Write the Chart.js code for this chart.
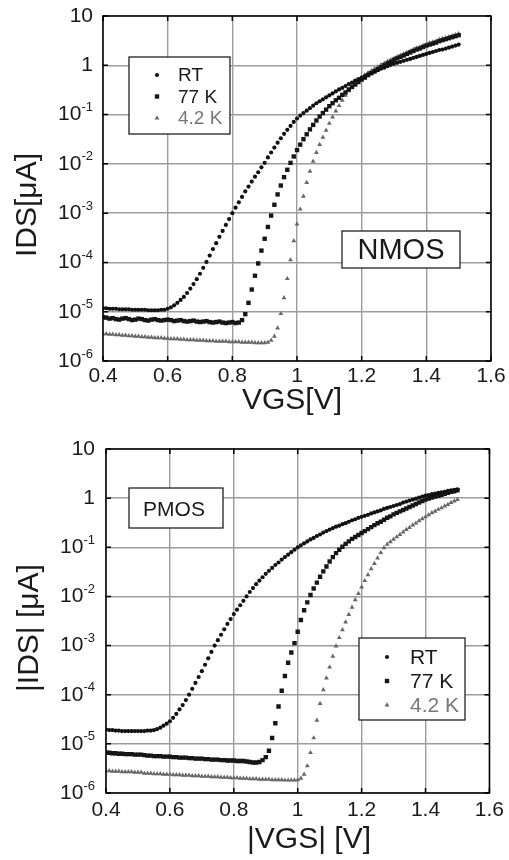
<!DOCTYPE html>
<html>
<head>
<meta charset="utf-8">
<script src="https://cdn.jsdelivr.net/npm/chart.js@4.4.0/dist/chart.umd.min.js"></script>
<style>
  html, body { margin: 0; padding: 0; background: #fff; }
  .panel { position: relative; width: 509px; height: 430px; }
</style>
</head>
<body>
<div class="panel"><canvas id="nmos" width="509" height="430"></canvas></div>
<div class="panel"><canvas id="pmos" width="509" height="430"></canvas></div>
<script>
// gate voltage sweep, V (0.01 V step)
const vgs = [
  0.40,0.41,0.42,0.43,0.44,0.45,0.46,0.47,0.48,0.49,
  0.50,0.51,0.52,0.53,0.54,0.55,0.56,0.57,0.58,0.59,
  0.60,0.61,0.62,0.63,0.64,0.65,0.66,0.67,0.68,0.69,
  0.70,0.71,0.72,0.73,0.74,0.75,0.76,0.77,0.78,0.79,
  0.80,0.81,0.82,0.83,0.84,0.85,0.86,0.87,0.88,0.89,
  0.90,0.91,0.92,0.93,0.94,0.95,0.96,0.97,0.98,0.99,
  1.00,1.01,1.02,1.03,1.04,1.05,1.06,1.07,1.08,1.09,
  1.10,1.11,1.12,1.13,1.14,1.15,1.16,1.17,1.18,1.19,
  1.20,1.21,1.22,1.23,1.24,1.25,1.26,1.27,1.28,1.29,
  1.30,1.31,1.32,1.33,1.34,1.35,1.36,1.37,1.38,1.39,
  1.40,1.41,1.42,1.43,1.44,1.45,1.46,1.47,1.48,1.49,1.50
];

const seriesNames = ['RT', '77 K', '4.2 K'];
const xTicks = [0.4, 0.6, 0.8, 1.0, 1.2, 1.4, 1.6];
const yTicks = [1e-6, 1e-5, 1e-4, 1e-3, 1e-2, 1e-1, 1, 10];

// as log10(IDS / uA)
const nmosRT = [
  -4.93,-4.93,-4.94,-4.94,-4.94,-4.95,-4.95,-4.95,-4.95,-4.96,
  -4.96,-4.96,-4.96,-4.96,-4.97,-4.97,-4.97,-4.97,-4.96,-4.96,
  -4.94,-4.91,-4.87,-4.82,-4.76,-4.70,-4.62,-4.53,-4.44,-4.34,
  -4.23,-4.11,-3.99,-3.86,-3.73,-3.61,-3.48,-3.36,-3.24,-3.12,
  -3.00,-2.89,-2.78,-2.67,-2.56,-2.46,-2.36,-2.26,-2.17,-2.07,
  -1.98,-1.87,-1.77,-1.67,-1.57,-1.48,-1.39,-1.31,-1.23,-1.15,
  -1.08,-1.02,-0.97,-0.92,-0.87,-0.82,-0.77,-0.73,-0.69,-0.65,
  -0.61,-0.57,-0.53,-0.49,-0.46,-0.42,-0.38,-0.35,-0.31,-0.28,
  -0.25,-0.22,-0.19,-0.16,-0.13,-0.10,-0.07,-0.05,-0.02,0.01,
  0.03,0.05,0.07,0.09,0.11,0.13,0.15,0.17,0.19,0.21,
  0.23,0.25,0.27,0.29,0.31,0.32,0.34,0.36,0.38,0.40,0.42
];
const nmos77K = [
  -5.11,-5.12,-5.14,-5.13,-5.15,-5.16,-5.14,-5.13,-5.15,-5.17,
  -5.16,-5.14,-5.15,-5.17,-5.18,-5.16,-5.15,-5.17,-5.18,-5.17,
  -5.16,-5.17,-5.19,-5.18,-5.17,-5.19,-5.20,-5.19,-5.18,-5.20,
  -5.21,-5.20,-5.19,-5.21,-5.22,-5.21,-5.20,-5.22,-5.23,-5.22,
  -5.21,-5.23,-5.22,-5.17,-5.05,-4.82,-4.55,-4.27,-4.02,-3.76,
  -3.52,-3.28,-3.05,-2.83,-2.62,-2.44,-2.27,-2.12,-1.98,-1.85,
  -1.72,-1.61,-1.50,-1.40,-1.30,-1.21,-1.12,-1.04,-0.97,-0.90,
  -0.83,-0.77,-0.71,-0.66,-0.60,-0.55,-0.49,-0.44,-0.39,-0.34,
  -0.29,-0.25,-0.20,-0.16,-0.12,-0.08,-0.04,0.00,0.04,0.07,
  0.11,0.14,0.17,0.20,0.23,0.26,0.29,0.32,0.34,0.37,
  0.40,0.42,0.44,0.46,0.49,0.51,0.53,0.55,0.57,0.59,0.61
];
const nmos4K = [
  -5.45,-5.45,-5.46,-5.46,-5.47,-5.47,-5.48,-5.48,-5.49,-5.49,
  -5.50,-5.50,-5.51,-5.51,-5.52,-5.52,-5.53,-5.53,-5.53,-5.54,
  -5.54,-5.55,-5.55,-5.55,-5.56,-5.56,-5.57,-5.57,-5.57,-5.58,
  -5.58,-5.58,-5.59,-5.59,-5.59,-5.60,-5.60,-5.60,-5.60,-5.61,
  -5.61,-5.61,-5.61,-5.62,-5.62,-5.62,-5.62,-5.63,-5.63,-5.63,
  -5.63,-5.62,-5.58,-5.50,-5.33,-5.04,-4.72,-4.33,-3.95,-3.56,
  -3.22,-2.92,-2.66,-2.38,-2.15,-1.95,-1.77,-1.61,-1.46,-1.32,
  -1.18,-1.05,-0.93,-0.82,-0.71,-0.61,-0.52,-0.44,-0.37,-0.31,
  -0.25,-0.20,-0.15,-0.11,-0.07,-0.03,0.01,0.04,0.08,0.11,
  0.14,0.17,0.20,0.23,0.26,0.29,0.32,0.35,0.37,0.40,
  0.42,0.45,0.47,0.49,0.52,0.54,0.56,0.58,0.60,0.62,0.64
];

const pmosRT = [
  -4.71,-4.72,-4.72,-4.73,-4.73,-4.74,-4.74,-4.74,-4.74,-4.74,
  -4.74,-4.74,-4.74,-4.73,-4.73,-4.72,-4.70,-4.67,-4.63,-4.59,
  -4.54,-4.47,-4.39,-4.30,-4.21,-4.11,-4.00,-3.88,-3.76,-3.64,
  -3.52,-3.39,-3.26,-3.13,-3.00,-2.89,-2.78,-2.67,-2.56,-2.46,
  -2.36,-2.27,-2.18,-2.09,-2.00,-1.91,-1.83,-1.75,-1.68,-1.61,
  -1.54,-1.48,-1.42,-1.36,-1.31,-1.25,-1.20,-1.15,-1.10,-1.05,
  -1.00,-0.96,-0.92,-0.88,-0.84,-0.81,-0.77,-0.74,-0.70,-0.67,
  -0.64,-0.61,-0.58,-0.56,-0.53,-0.51,-0.48,-0.45,-0.43,-0.40,
  -0.38,-0.36,-0.34,-0.31,-0.29,-0.27,-0.25,-0.22,-0.20,-0.18,
  -0.16,-0.14,-0.12,-0.09,-0.07,-0.05,-0.03,-0.01,0.01,0.03,
  0.05,0.06,0.08,0.09,0.11,0.12,0.13,0.15,0.16,0.17,0.18
];
const pmos77K = [
  -5.18,-5.18,-5.19,-5.19,-5.20,-5.20,-5.21,-5.21,-5.21,-5.22,
  -5.22,-5.22,-5.23,-5.24,-5.24,-5.25,-5.25,-5.25,-5.26,-5.26,
  -5.26,-5.27,-5.27,-5.28,-5.28,-5.28,-5.29,-5.29,-5.30,-5.30,
  -5.30,-5.31,-5.31,-5.32,-5.32,-5.32,-5.33,-5.33,-5.34,-5.34,
  -5.34,-5.35,-5.35,-5.35,-5.36,-5.37,-5.38,-5.38,-5.37,-5.33,
  -5.27,-5.14,-4.88,-4.58,-4.24,-3.92,-3.62,-3.35,-3.14,-2.95,
  -2.72,-2.48,-2.28,-2.12,-1.97,-1.84,-1.72,-1.60,-1.49,-1.39,
  -1.29,-1.20,-1.12,-1.05,-0.99,-0.93,-0.88,-0.83,-0.79,-0.75,
  -0.71,-0.67,-0.63,-0.59,-0.55,-0.51,-0.48,-0.44,-0.40,-0.37,
  -0.33,-0.30,-0.27,-0.24,-0.21,-0.18,-0.15,-0.12,-0.09,-0.06,
  -0.03,-0.01,0.01,0.03,0.05,0.07,0.09,0.11,0.13,0.14,0.16
];
const pmos4K = [
  -5.55,-5.55,-5.56,-5.56,-5.56,-5.57,-5.57,-5.57,-5.57,-5.58,
  -5.58,-5.58,-5.60,-5.60,-5.60,-5.61,-5.61,-5.61,-5.62,-5.62,
  -5.62,-5.63,-5.63,-5.63,-5.64,-5.64,-5.64,-5.65,-5.65,-5.65,
  -5.66,-5.66,-5.66,-5.67,-5.67,-5.67,-5.68,-5.68,-5.68,-5.69,
  -5.69,-5.69,-5.70,-5.70,-5.70,-5.71,-5.71,-5.71,-5.72,-5.72,
  -5.72,-5.72,-5.73,-5.73,-5.73,-5.73,-5.74,-5.74,-5.74,-5.74,
  -5.73,-5.70,-5.62,-5.45,-5.18,-4.88,-4.52,-4.18,-3.90,-3.66,
  -3.44,-3.22,-3.01,-2.84,-2.68,-2.52,-2.37,-2.22,-2.07,-1.94,
  -1.81,-1.68,-1.56,-1.44,-1.33,-1.22,-1.11,-1.01,-0.94,-0.89,
  -0.84,-0.79,-0.74,-0.69,-0.64,-0.60,-0.55,-0.51,-0.46,-0.42,
  -0.38,-0.34,-0.30,-0.27,-0.23,-0.20,-0.16,-0.13,-0.09,-0.06,-0.03
];

const FONT = "'Liberation Sans', Arial, sans-serif";
const INK = '#1a1a1a';
const GREY = '#676767';

const marks = [
  { pointStyle: 'circle', radius: 2.1, color: '#111' },
  { pointStyle: 'rect', radius: 3.1, color: '#161616' },
  { pointStyle: 'triangle', radius: 2.8, color: GREY }
];

function points(logs) {
  return vgs.map((v, i) => ({ x: v, y: Math.pow(10, logs[i]) }));
}

// frame, y labels with exponents, inner legend, tag box and axis titles
const decor = {
  id: 'decor',
  afterDraw(chart, args, o) {
    const { ctx, chartArea: a, scales: { x, y } } = chart;
    ctx.save();

    // y tick labels: 10 with superscript exponent
    ctx.fillStyle = INK;
    ctx.textAlign = 'right';
    ctx.textBaseline = 'middle';
    yTicks.forEach(v => {
      const py = y.getPixelForValue(v);
      const e = Math.round(Math.log10(v));
      const r = a.left - o.labelGap;
      if (e >= 0) {
        ctx.font = '21px ' + FONT;
        ctx.fillText(e === 0 ? '1' : '10', r, py);
      } else {
        const s = String(e);
        ctx.font = '13px ' + FONT;
        ctx.fillText(s, r, py - 7);
        const w = ctx.measureText(s).width;
        ctx.font = '21px ' + FONT;
        ctx.fillText('10', r - w, py);
      }
    });

    // plot frame with short inward ticks
    ctx.strokeStyle = '#000';
    ctx.lineWidth = 1.5;
    ctx.strokeRect(a.left, a.top, a.width, a.height);
    ctx.beginPath();
    xTicks.forEach(v => {
      const px = x.getPixelForValue(v);
      ctx.moveTo(px, a.bottom); ctx.lineTo(px, a.bottom - 5);
      ctx.moveTo(px, a.top); ctx.lineTo(px, a.top + 5);
    });
    yTicks.forEach(v => {
      const py = y.getPixelForValue(v);
      ctx.moveTo(a.left, py); ctx.lineTo(a.left + 5, py);
      ctx.moveTo(a.right, py); ctx.lineTo(a.right - 5, py);
    });
    ctx.stroke();

    // legend box
    const L = o.legend;
    ctx.fillStyle = '#fff';
    ctx.fillRect(L.x, L.y, L.w, L.h);
    ctx.strokeStyle = '#222';
    ctx.lineWidth = 1.3;
    ctx.strokeRect(L.x, L.y, L.w, L.h);
    ctx.textAlign = 'left';
    ctx.font = L.size + 'px ' + FONT;
    chart.data.datasets.forEach((ds, i) => {
      const cy = L.row0 + i * L.step;
      ctx.fillStyle = ds.pointBackgroundColor;
      Chart.helpers.drawPoint(ctx, {
        pointStyle: ds.pointStyle, radius: ds.pointRadius, borderWidth: 0, rotation: 0
      }, L.markX, cy);
      ctx.fillStyle = i === 2 ? '#777' : INK;
      ctx.fillText(ds.label, L.textX, cy + 1);
    });

    // device tag
    const T = o.tag;
    ctx.fillStyle = '#fff';
    ctx.fillRect(T.x, T.y, T.w, T.h);
    ctx.strokeStyle = '#222';
    ctx.strokeRect(T.x, T.y, T.w, T.h);
    ctx.fillStyle = INK;
    ctx.textAlign = 'center';
    ctx.font = T.size + 'px ' + FONT;
    ctx.fillText(T.text, T.tx, T.ty);

    // axis titles
    ctx.font = '30px ' + FONT;
    ctx.fillText(o.xTitle.text, o.xTitle.x, o.xTitle.y);
    ctx.translate(o.yTitle.x, o.yTitle.y);
    ctx.rotate(-Math.PI / 2);
    ctx.fillText(o.yTitle.text, 0, 0);

    ctx.restore();
  }
};

function makeChart(id, series, g, deco) {
  const gridStyle = { color: '#9c9c9c', lineWidth: 1.4, drawTicks: false };
  return new Chart(document.getElementById(id), {
    type: 'scatter',
    data: {
      datasets: series.map((s, i) => ({
        label: seriesNames[i],
        data: points(s),
        showLine: false,
        pointStyle: marks[i].pointStyle,
        pointRadius: marks[i].radius,
        pointBackgroundColor: marks[i].color,
        pointBorderWidth: 0
      }))
    },
    options: {
      responsive: false,
      animation: false,
      events: [],
      layout: { padding: { top: g.top, right: g.right, left: 0, bottom: 0 } },
      plugins: {
        legend: { display: false },
        tooltip: { enabled: false },
        decor: deco
      },
      scales: {
        x: {
          type: 'linear',
          min: 0.4,
          max: 1.6,
          afterBuildTicks: s => { s.ticks = xTicks.map(v => ({ value: v })); },
          afterFit: s => { s.height = g.xh; },
          ticks: {
            padding: g.xpad,
            color: INK,
            maxRotation: 0,
            font: { family: FONT, size: 21 },
            callback: v => String(Math.round(v * 10) / 10)
          },
          grid: gridStyle,
          border: { display: false }
        },
        y: {
          type: 'logarithmic',
          min: 1e-6,
          max: 10,
          afterBuildTicks: s => { s.ticks = yTicks.map(v => ({ value: v })); },
          afterFit: s => { s.width = g.yw; },
          ticks: { display: false },
          grid: gridStyle,
          border: { display: false }
        }
      }
    },
    plugins: [decor]
  });
}

makeChart('nmos', [nmosRT, nmos77K, nmos4K],
  { top: 16, right: 18, yw: 103, xh: 69, xpad: 3 },
  {
    labelGap: 10,
    legend: { x: 129, y: 57, w: 101, h: 77, markX: 157, textX: 178, row0: 75, step: 21.5, size: 19 },
    tag: { x: 342, y: 231, w: 118, h: 37, text: 'NMOS', tx: 401, ty: 251, size: 29 },
    xTitle: { text: 'VGS[V]', x: 292, y: 401 },
    yTitle: { text: 'IDS[μA]', x: 28, y: 205 }
  });

makeChart('pmos', [pmosRT, pmos77K, pmos4K],
  { top: 19, right: 17, yw: 106, xh: 67, xpad: 5 },
  {
    labelGap: 11,
    legend: { x: 359, y: 208, w: 106, h: 82, markX: 387, textX: 410, row0: 227, step: 24, size: 21 },
    tag: { x: 129, y: 58, w: 94, h: 40, text: 'PMOS', tx: 174, ty: 80, size: 21 },
    xTitle: { text: '|VGS| [V]', x: 309, y: 410 },
    yTitle: { text: '|IDS| [μA]', x: 30, y: 198 }
  });
</script>
</body>
</html>
